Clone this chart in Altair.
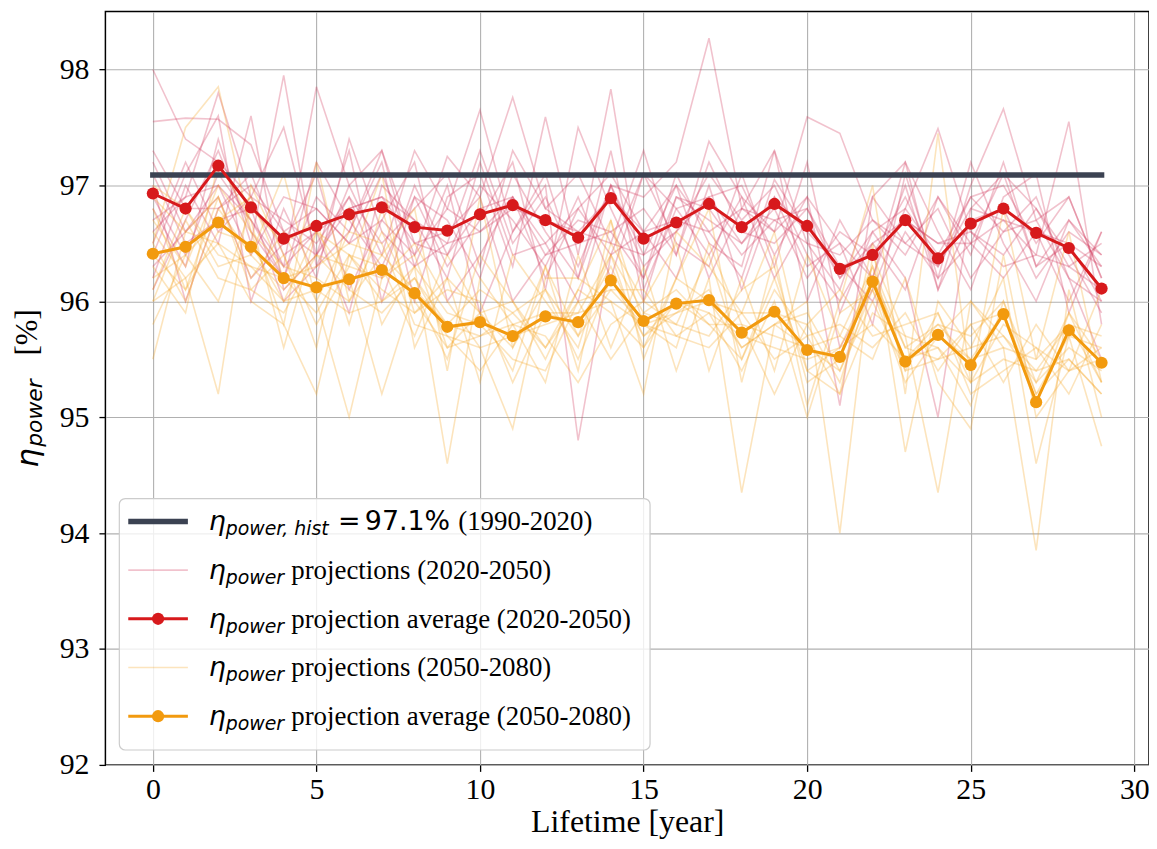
import altair as alt
import pandas as pd

# ---------------- data ----------------
years = list(range(30))
hist_value = 97.09
hist_years = [0, 29]

red_avg = [96.93, 96.80, 97.17, 96.81, 96.54, 96.65, 96.75, 96.81, 96.64, 96.61,
           96.75, 96.83, 96.70, 96.55, 96.89, 96.54, 96.68, 96.84, 96.64, 96.84,
           96.65, 96.28, 96.40, 96.70, 96.37, 96.67, 96.80, 96.59, 96.46, 96.11]
orange_avg = [96.41, 96.47, 96.68, 96.47, 96.20, 96.12, 96.19, 96.27, 96.07, 95.78,
              95.82, 95.70, 95.87, 95.82, 96.18, 95.83, 95.98, 96.01, 95.73, 95.91,
              95.58, 95.52, 96.17, 95.48, 95.71, 95.45, 95.89, 95.13, 95.75, 95.47]

red_p1 = [98.00, 97.40, 97.20, 96.90, 96.30, 97.85, 97.00, 96.40, 97.30, 96.80, 97.65, 96.60, 97.10, 96.20, 97.00,
          96.90, 97.20, 98.27, 96.80, 97.30, 96.50, 96.10, 96.90, 97.20, 96.10, 97.00, 97.66, 96.70, 96.90, 96.20]
red_p2 = [97.55, 97.58, 97.57, 97.35, 96.60, 96.80, 96.50, 97.10, 96.40, 97.25, 96.90, 97.76, 96.80, 97.10, 96.50,
          97.30, 96.40, 97.38, 96.90, 96.60, 97.59, 97.45, 96.70, 96.40, 96.90, 96.50, 97.10, 96.80, 96.30, 96.50]
red_p3 = [96.20, 97.00, 96.50, 97.60, 96.10, 96.40, 97.30, 96.00, 96.90, 96.30, 96.70, 97.20, 96.10, 97.50, 96.80,
          96.20, 97.10, 96.50, 96.30, 97.30, 96.00, 96.70, 96.20, 97.20, 96.60, 96.10, 96.90, 97.10, 95.90, 96.60]
red_p4 = [96.80, 96.30, 97.40, 96.50, 97.95, 96.30, 96.60, 97.20, 96.00, 96.90, 97.10, 96.30, 97.59, 96.40, 97.83,
          96.10, 96.80, 96.90, 97.00, 96.40, 96.90, 95.60, 96.10, 96.80, 97.49, 96.60, 96.30, 96.40, 97.55, 95.80]
red_p5 = [97.20, 96.60, 96.90, 96.20, 96.50, 97.10, 96.10, 96.70, 97.20, 96.00, 96.40, 96.90, 96.20, 96.80, 97.10,
          96.60, 96.20, 97.00, 96.10, 96.90, 96.30, 96.50, 95.80, 97.10, 96.20, 97.20, 96.50, 96.00, 96.70, 96.40]
red_p6 = [96.40, 97.10, 97.60, 96.00, 96.80, 96.20, 97.40, 96.60, 96.30, 97.00, 95.90, 96.60, 97.00, 94.80, 96.40,
          97.10, 96.50, 96.30, 97.10, 96.30, 97.20, 95.90, 96.60, 96.20, 95.00, 96.80, 97.10, 96.30, 96.50, 96.00]
red_p7 = [97.00, 96.00, 96.80, 97.10, 96.40, 96.60, 95.90, 97.00, 96.70, 96.20, 97.20, 96.40, 96.50, 96.00, 97.00,
          96.40, 97.00, 96.60, 96.20, 97.05, 96.60, 95.10, 96.90, 96.50, 96.80, 96.20, 96.60, 96.90, 96.20, 95.50]
red_p8 = [96.10, 96.70, 97.30, 96.60, 96.20, 97.20, 96.70, 96.30, 96.90, 96.70, 96.20, 97.10, 96.60, 96.20, 97.30,
          96.00, 96.90, 96.70, 96.50, 96.80, 96.20, 96.60, 96.40, 96.90, 96.30, 96.90, 97.00, 96.50, 96.90, 96.20]
red_p9 = [97.10, 96.50, 96.70, 96.80, 96.00, 96.30, 97.00, 97.30, 96.50, 96.60, 96.90, 96.00, 96.40, 96.70, 96.60,
          96.80, 96.40, 97.20, 96.60, 96.50, 96.80, 96.30, 96.00, 96.60, 96.20, 96.50, 96.20, 96.60, 96.00, 96.60]
red_p10 = [96.70, 96.90, 97.00, 96.40, 96.90, 96.80, 96.50, 96.70, 96.40, 96.80, 96.60, 96.90, 96.50, 96.80, 96.40,
           96.60, 96.70, 96.60, 96.80, 96.70, 96.50, 96.40, 96.70, 96.50, 96.30, 96.80, 96.70, 96.40, 96.30, 96.10]
red_p11 = [96.50, 97.20, 96.60, 96.90, 97.50, 96.40, 96.90, 96.20, 97.00, 96.40, 97.00, 96.70, 96.30, 96.90, 96.20,
           97.10, 96.80, 96.40, 96.90, 96.20, 96.70, 96.20, 96.50, 96.10, 96.90, 96.40, 97.20, 96.30, 96.70, 96.30]
red_p12 = [96.90, 96.40, 97.10, 96.70, 96.20, 96.90, 96.60, 97.30, 96.30, 96.50, 97.30, 96.50, 96.90, 96.30, 97.00,
           96.30, 96.60, 97.10, 96.70, 97.00, 96.40, 96.00, 96.50, 96.70, 96.50, 96.60, 96.40, 96.80, 96.40, 95.90]
red_p13 = [96.60, 96.90, 97.80, 96.90, 96.70, 96.50, 96.90, 96.50, 96.80, 97.10, 96.30, 97.30, 96.80, 96.60, 96.90,
           96.60, 97.00, 96.20, 96.80, 96.60, 96.90, 96.50, 96.20, 97.00, 96.10, 96.70, 96.80, 96.20, 96.60, 96.40]
red_p14 = [97.30, 96.80, 96.80, 97.00, 96.60, 96.40, 96.80, 96.90, 96.50, 96.40, 96.80, 96.90, 96.40, 96.50, 96.60,
           96.20, 96.90, 96.80, 96.40, 96.70, 96.80, 96.20, 96.60, 96.80, 96.40, 96.90, 96.60, 96.70, 96.20, 96.00]
red_p15 = [96.30, 96.60, 97.00, 96.70, 96.30, 96.60, 96.80, 96.90, 96.70, 96.50, 96.60, 96.80, 96.70, 96.60, 96.50,
           96.40, 96.60, 96.90, 96.50, 96.90, 96.60, 96.30, 96.40, 96.70, 96.50, 96.50, 96.70, 96.60, 96.50, 96.30]

orange_p1 = [96.50, 97.50, 97.85, 96.60, 95.80, 97.20, 96.00, 96.40, 96.80, 95.40, 96.90, 95.60, 96.30, 95.40, 96.70,
             95.50, 96.20, 96.80, 95.30, 96.40, 95.10, 96.00, 97.00, 95.20, 97.45, 95.30, 96.80, 95.50, 96.60, 95.30]
orange_p2 = [96.00, 96.20, 95.20, 97.00, 96.40, 95.60, 96.80, 95.80, 96.30, 94.60, 96.20, 95.80, 95.30, 96.40, 95.60,
             96.30, 95.40, 96.20, 94.35, 95.80, 96.00, 94.00, 96.40, 95.70, 94.35, 96.00, 95.60, 93.85, 96.10, 95.00]
orange_p3 = [96.80, 96.10, 96.90, 96.10, 95.90, 96.40, 96.30, 97.10, 95.60, 96.20, 95.30, 96.40, 96.00, 95.60, 96.50,
             96.00, 96.50, 95.40, 96.20, 95.40, 96.40, 95.70, 95.50, 96.20, 95.30, 94.90, 96.40, 95.00, 95.40, 96.10]
orange_p4 = [95.50, 96.60, 96.90, 96.20, 96.60, 96.00, 95.00, 96.20, 96.50, 96.00, 95.60, 94.90, 96.20, 96.20, 96.00,
             95.20, 96.60, 96.30, 95.90, 96.60, 95.40, 95.20, 96.50, 94.70, 96.00, 95.60, 96.20, 94.60, 95.70, 94.75]
orange_p5 = [96.30, 95.90, 97.20, 96.70, 95.60, 96.60, 96.20, 95.20, 96.10, 95.50, 96.40, 96.00, 95.50, 96.10, 96.70,
             95.80, 95.60, 96.50, 95.80, 95.20, 95.80, 96.10, 95.70, 95.80, 95.90, 95.20, 95.40, 95.60, 95.20, 95.80]
orange_p6 = [97.00, 96.80, 96.30, 96.40, 97.10, 96.00, 96.60, 96.50, 95.80, 95.70, 95.40, 95.80, 95.70, 95.30, 95.80,
             96.00, 95.80, 95.70, 96.10, 96.30, 95.30, 95.50, 96.30, 95.60, 95.80, 95.50, 95.90, 95.10, 95.90, 95.30]
orange_p7 = [96.20, 96.40, 96.00, 96.80, 96.50, 96.70, 95.80, 96.80, 95.90, 96.10, 96.00, 95.30, 95.90, 95.80, 96.30,
             95.70, 96.00, 95.90, 95.40, 96.00, 95.00, 95.90, 96.10, 95.30, 95.70, 96.00, 95.70, 95.40, 95.80, 95.70]
orange_p8 = [96.60, 96.20, 96.50, 96.00, 95.80, 95.20, 96.40, 96.00, 96.30, 95.90, 95.80, 95.50, 95.40, 96.00, 95.50,
             95.90, 96.10, 95.80, 95.50, 96.10, 95.70, 95.20, 95.90, 95.70, 95.60, 95.10, 96.00, 95.20, 95.50, 95.20]
orange_p9 = [96.10, 96.80, 96.40, 96.30, 96.20, 96.30, 96.50, 96.40, 96.10, 95.80, 96.10, 95.90, 96.10, 95.50, 96.20,
             95.70, 95.90, 96.10, 95.60, 95.80, 95.60, 95.40, 96.00, 95.40, 95.50, 95.60, 95.70, 95.30, 95.60, 95.40]
orange_p10 = [96.40, 96.10, 96.60, 96.50, 96.00, 96.10, 95.90, 96.00, 96.20, 95.70, 95.60, 95.70, 95.80, 95.90, 96.00,
              95.80, 95.70, 95.90, 95.70, 95.60, 95.50, 95.60, 95.80, 95.50, 95.60, 95.30, 95.50, 95.40, 95.50, 95.20]
orange_p11 = [96.90, 96.60, 96.50, 96.30, 96.00, 96.60, 96.40, 96.10, 95.90, 96.20, 95.90, 96.00, 95.60, 96.10, 95.90,
              95.60, 96.20, 96.00, 95.90, 95.50, 95.70, 95.80, 95.60, 95.90, 95.40, 95.80, 95.30, 95.80, 95.40, 95.60]
orange_p12 = [95.80, 96.40, 96.70, 96.90, 96.20, 95.90, 96.40, 96.30, 95.70, 96.40, 95.90, 95.40, 96.30, 95.70, 96.40,
              95.90, 95.80, 96.40, 95.50, 96.20, 95.40, 95.60, 96.20, 95.50, 95.80, 95.70, 96.00, 95.30, 95.90, 95.50]
orange_p13 = [96.70, 96.30, 97.00, 96.60, 96.30, 96.20, 96.00, 96.60, 96.00, 95.60, 95.90, 95.60, 96.10, 95.70, 96.10,
              96.10, 95.70, 95.60, 95.90, 95.90, 95.80, 95.30, 96.20, 95.60, 95.50, 95.80, 95.90, 95.20, 95.70, 95.60]
orange_p14 = [96.00, 96.70, 96.20, 96.10, 96.40, 95.80, 96.30, 96.20, 96.40, 95.60, 95.70, 95.80, 95.90, 95.90, 96.40,
              95.60, 96.00, 95.80, 95.80, 95.70, 95.60, 95.70, 96.30, 95.40, 95.90, 95.30, 95.80, 95.60, 95.40, 95.50]
orange_p15 = [96.50, 96.00, 96.80, 96.40, 96.10, 96.40, 96.10, 95.90, 96.20, 95.80, 95.70, 95.90, 95.60, 96.00, 96.10,
              95.80, 95.90, 96.00, 95.60, 95.80, 95.90, 95.40, 96.10, 95.50, 95.70, 95.50, 95.60, 95.50, 95.80, 95.30]

red_projections = [red_p1, red_p2, red_p3, red_p4, red_p5, red_p6, red_p7, red_p8, red_p9, red_p10,
                   red_p11, red_p12, red_p13, red_p14, red_p15]
orange_projections = [orange_p1, orange_p2, orange_p3, orange_p4, orange_p5, orange_p6, orange_p7, orange_p8,
                      orange_p9, orange_p10, orange_p11, orange_p12, orange_p13, orange_p14, orange_p15]

x_ticks = [0, 5, 10, 15, 20, 25, 30]
y_ticks = [92, 93, 94, 95, 96, 97, 98]
x_title = "Lifetime [year]"
legend_sub = ["power, hist", "power", "power", "power", "power"]
legend_rest = ["(1990-2020)", "projections (2020-2050)", "projection average (2020-2050)",
               "projections (2050-2080)", "projection average (2050-2080)"]
hist_label_value = "97.1%"

# ---------------- styling ----------------
HIST = "#3b4252"
RED = "#d7191c"
RED_P = "#d0355a"
ORANGE = "#f29a0e"
ORANGE_P = "#f5a623"
SERIF = "Liberation Serif"
SANS = "DejaVu Sans"


def to_long(series_list, prefix):
    rows = []
    for i, s in enumerate(series_list):
        for yr, v in zip(years, s):
            rows.append({"year": yr, "value": v, "series": f"{prefix}{i}"})
    return pd.DataFrame(rows)


df_red_p = to_long(red_projections, "r")
df_orange_p = to_long(orange_projections, "o")
df_red_avg = pd.DataFrame({"year": years, "value": red_avg})
df_orange_avg = pd.DataFrame({"year": years, "value": orange_avg})
df_hist = pd.DataFrame({"year": hist_years, "value": [hist_value, hist_value]})
dummy = pd.DataFrame({"d": [0]})

x_enc = alt.X("year:Q",
              scale=alt.Scale(domain=[-1.45, 30.45], nice=False, zero=False),
              axis=alt.Axis(values=x_ticks, title=x_title, format="d"))
y_enc = alt.Y("value:Q",
              scale=alt.Scale(domain=[92, 98.5], nice=False, zero=False),
              axis=alt.Axis(values=y_ticks, title=None, format="d"))

layers = []
layers.append(alt.Chart(df_red_p).mark_line(color=RED_P, opacity=0.3, strokeWidth=1.6)
              .encode(x=x_enc, y=y_enc, detail="series:N"))
layers.append(alt.Chart(df_orange_p).mark_line(color=ORANGE_P, opacity=0.3, strokeWidth=1.6)
              .encode(x=x_enc, y=y_enc, detail="series:N"))
layers.append(alt.Chart(df_hist).mark_line(color=HIST, strokeWidth=5.5, strokeCap="square")
              .encode(x=x_enc, y=y_enc))
layers.append(alt.Chart(df_red_avg).mark_line(color=RED, strokeWidth=3).encode(x=x_enc, y=y_enc))
layers.append(alt.Chart(df_red_avg).mark_circle(color=RED, size=150, opacity=1).encode(x=x_enc, y=y_enc))
layers.append(alt.Chart(df_orange_avg).mark_line(color=ORANGE, strokeWidth=3).encode(x=x_enc, y=y_enc))
layers.append(alt.Chart(df_orange_avg).mark_circle(color=ORANGE, size=150, opacity=1).encode(x=x_enc, y=y_enc))

# ---------------- legend (drawn manually for math-style labels) ----------------
layers.append(alt.Chart(dummy).mark_rect(fill="white", fillOpacity=0.8, stroke="#cccccc", strokeWidth=1.2,
                                         cornerRadius=6)
              .encode(x=alt.value(14), x2=alt.value(548), y=alt.value(490), y2=alt.value(743)))

row_y = [513, 562, 611, 660, 709]
sym_color = [HIST, RED_P, RED, ORANGE_P, ORANGE]
sym_width = [5.5, 1.6, 3, 1.6, 3]
sym_opacity = [1, 0.3, 1, 0.3, 1]
sym_marker = [False, False, True, False, True]

for i, ry in enumerate(row_y):
    layers.append(alt.Chart(dummy).mark_rule(color=sym_color[i], strokeWidth=sym_width[i],
                                             opacity=sym_opacity[i])
                  .encode(x=alt.value(23), x2=alt.value(83), y=alt.value(ry)))
    if sym_marker[i]:
        layers.append(alt.Chart(dummy).mark_circle(color=sym_color[i], size=150, opacity=1)
                      .encode(x=alt.value(53), y=alt.value(ry)))
    layers.append(alt.Chart(dummy).mark_text(text="η", font=SANS, fontSize=27, fontStyle="italic",
                                             align="left", baseline="alphabetic", color="black")
                  .encode(x=alt.value(104), y=alt.value(ry + 9)))
    layers.append(alt.Chart(dummy).mark_text(text=legend_sub[i], font=SANS, fontSize=19, fontStyle="italic",
                                             align="left", baseline="alphabetic", color="black")
                  .encode(x=alt.value(121), y=alt.value(ry + 14)))
    if i == 0:
        layers.append(alt.Chart(dummy).mark_text(text="=", font=SANS, fontSize=27,
                                                 align="left", baseline="alphabetic", color="black")
                      .encode(x=alt.value(234), y=alt.value(ry + 9)))
        layers.append(alt.Chart(dummy).mark_text(text=hist_label_value, font=SANS, fontSize=27,
                                                 align="left", baseline="alphabetic", color="black")
                      .encode(x=alt.value(261), y=alt.value(ry + 9)))
        rest_x = 355
    else:
        rest_x = 187
    layers.append(alt.Chart(dummy).mark_text(text=legend_rest[i], font=SERIF, fontSize=27,
                                             align="left", baseline="alphabetic", color="black")
                  .encode(x=alt.value(rest_x), y=alt.value(ry + 9)))

# ---------------- y-axis title (η_power [%]) ----------------
layers.append(alt.Chart(dummy).mark_text(text="η", font=SANS, fontSize=31, fontStyle="italic", angle=270,
                                         align="left", baseline="alphabetic", color="black")
              .encode(x=alt.value(-68), y=alt.value(459)))
layers.append(alt.Chart(dummy).mark_text(text="power", font=SANS, fontSize=22, fontStyle="italic", angle=270,
                                         align="left", baseline="alphabetic", color="black")
              .encode(x=alt.value(-64), y=alt.value(438)))
layers.append(alt.Chart(dummy).mark_text(text="[%]", font=SERIF, fontSize=31, angle=270,
                                         align="left", baseline="alphabetic", color="black")
              .encode(x=alt.value(-69), y=alt.value(346)))

chart = alt.layer(*layers).properties(
    width=1050,
    height=758,
    autosize=alt.AutoSizeParams(type="none"),
    padding={"left": 98, "top": 1, "right": 0, "bottom": 74},
).configure_view(
    stroke="black", strokeWidth=1.5
).configure_axis(
    grid=True, gridColor="#b0b0b0", gridWidth=1.1,
    domain=False,
    tickColor="black", tickSize=6.5, tickWidth=1.3,
    labelFont=SERIF, labelFontSize=30, labelColor="black",
    titleFont=SERIF, titleFontSize=32, titleFontWeight="normal", titleColor="black",
).configure_axisX(
    labelPadding=3, titleY=67, titleBaseline="alphabetic",
).configure_axisY(
    labelPadding=10,
)

chart.save("out.html", embed_options={"renderer": "svg", "actions": False})
